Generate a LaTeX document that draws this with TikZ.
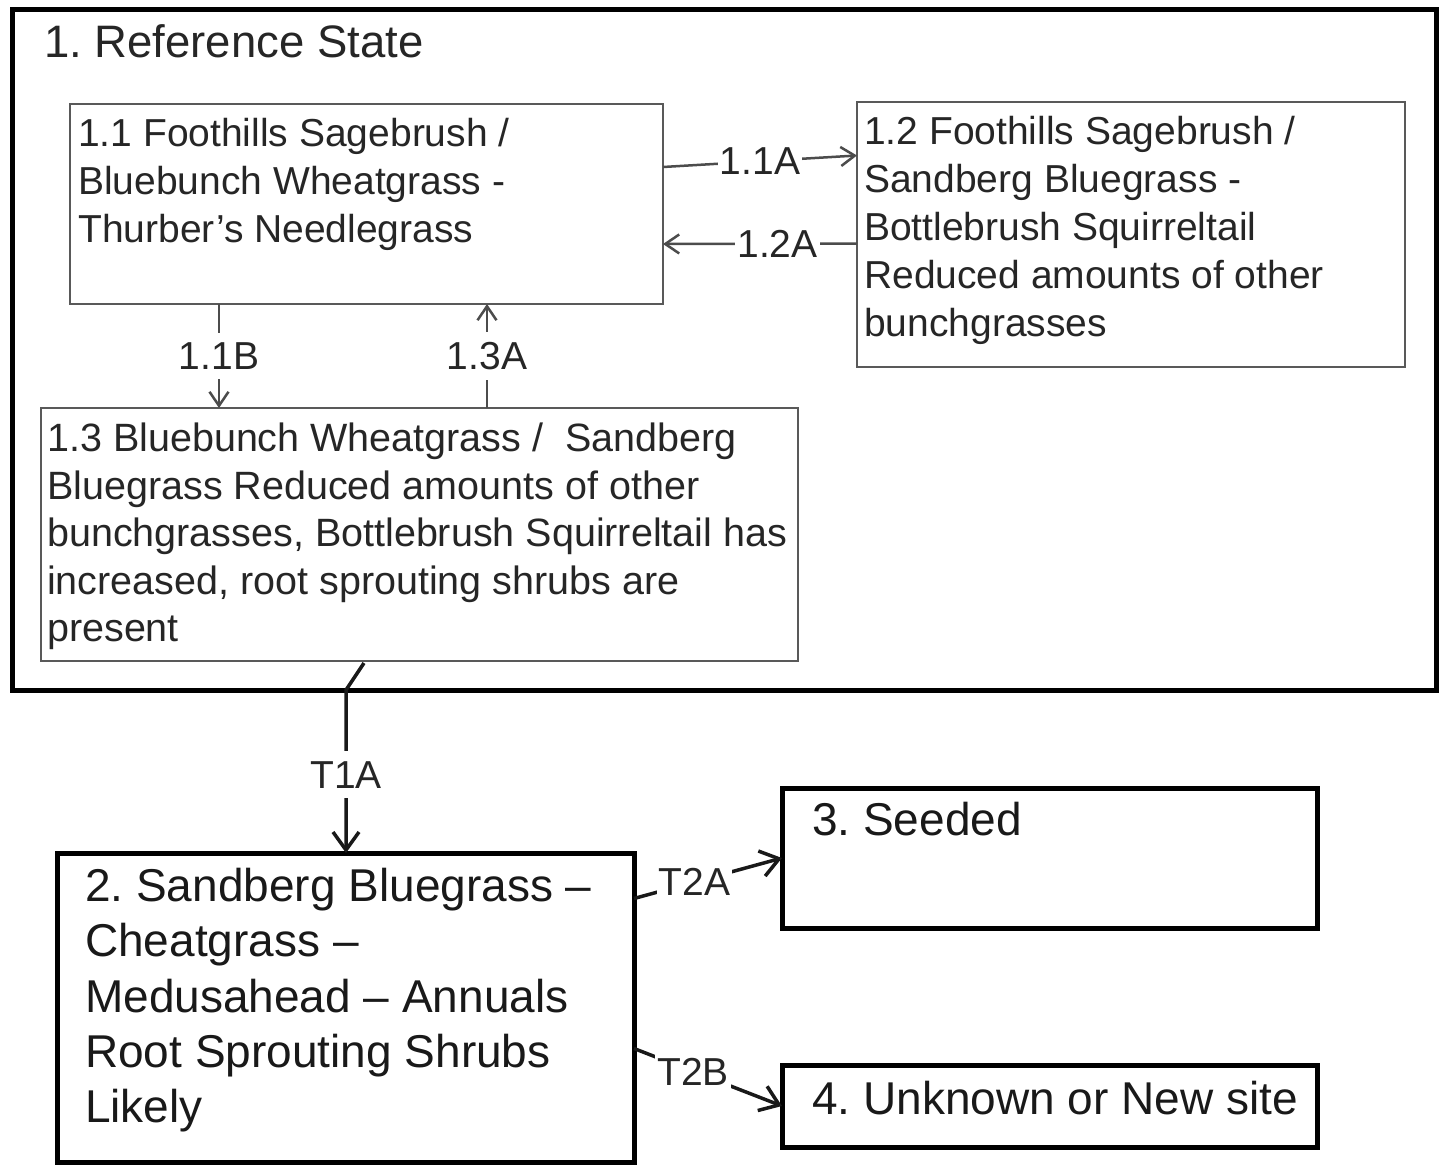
\documentclass[tikz,border=0pt]{standalone}
\usepackage{fontspec}
\setmainfont{Liberation Sans}
\usetikzlibrary{arrows.meta,positioning}

\begin{document}
\frenchspacing
\begin{tikzpicture}[x=1pt, y=-1pt,
    thinbox/.style={draw=black!65, line width=2.5pt, inner sep=0pt, outer sep=0pt, anchor=north west},
    thickbox/.style={draw=black, line width=5pt, inner sep=0pt, outer sep=0pt, anchor=north west},
    smalltext/.style={anchor=north west, align=left, inner sep=0pt, text=black!85, font=\fontsize{39}{48}\selectfont},
    bigtext/.style={anchor=north west, align=left, inner sep=0pt, text=black!90, font=\fontsize{46}{55.3}\selectfont},
    conn/.style={draw=black!70, line width=2.5pt, -{Straight Barb[length=14pt,width=19pt]}},
    trans/.style={draw=black!90, line width=3.5pt, -{Straight Barb[length=18pt,width=26pt]}},
    lbl/.style={fill=white, inner xsep=2pt, inner ysep=10pt, text=black!85, font=\fontsize{39}{39}\selectfont}]
  \useasboundingbox (0,0) rectangle (1446,1165);

  \begin{scope}
    \node[thickbox, minimum width=1424pt, minimum height=681pt] (ref) at (12,9) {};
    \node[thinbox, minimum width=593pt, minimum height=200pt] (s11) at (70,104) {};
    \node[thinbox, minimum width=548pt, minimum height=265pt] (s12) at (857,102) {};
    \node[thinbox, minimum width=757pt, minimum height=253pt] (s13) at (41,408) {};
    \node[thickbox, minimum width=577pt, minimum height=309pt] (s2) at (57,853) {};
    \node[thickbox, minimum width=535pt, minimum height=140pt] (s3) at (782,788) {};
    \node[thickbox, minimum width=535pt, minimum height=82pt] (s4) at (782,1065) {};
  \end{scope}

  \node[smalltext, font=\fontsize{45.5}{50}\selectfont] (reftxt) at (44,24) {1. Reference State};
  \node[smalltext] (s11txt) at (78,118) {1.1 Foothills Sagebrush /\\Bluebunch Wheatgrass -\\Thurber’s Needlegrass};
  \node[smalltext] (s12txt) at (864,116) {1.2 Foothills Sagebrush /\\Sandberg Bluegrass -\\Bottlebrush Squirreltail\\Reduced amounts of other\\bunchgrasses};
  \node[smalltext, font=\fontsize{39.5}{47.5}\selectfont] (s13txt) at (47,423)
    {1.3 Bluebunch Wheatgrass /\ \ Sandberg\\Bluegrass Reduced amounts of other\\bunchgrasses, Bottlebrush Squirreltail has\\increased, root sprouting shrubs are\\present};
  \node[bigtext] (s2txt) at (85,868) {2. Sandberg Bluegrass –\\Cheatgrass –\\Medusahead – Annuals\\Root Sprouting Shrubs\\Likely};
  \node[bigtext] (s3txt) at (812,802) {3. Seeded};
  \node[bigtext] (s4txt) at (812,1081) {4. Unknown or New site};

  \coordinate (t1start) at (364,663);
  \coordinate (t1bend) at (346,690);

  \begin{scope}
    \draw[conn] ([yshift=37pt]s11.east) -- ([yshift=79pt]s12.west) node[lbl, midway] {1.1A};
    \draw[conn] ([yshift=-9pt]s12.west) -- ([yshift=-40pt]s11.east) node[lbl, pos=0.41] {1.2A};
    \draw[conn] ([xshift=-147.5pt]s11.south) -- ([xshift=-200.5pt]s13.north) node[lbl, midway] {1.1B};
    \draw[conn] ([xshift=67.5pt]s13.north) -- ([xshift=120.5pt]s11.south) node[lbl, midway] {1.3A};
    \draw[trans] (t1start) -- (t1bend) -- (s2.north -| t1bend) node[lbl, pos=0.52] {T1A};
    \draw[trans] ([yshift=109pt]s2.east) -- (s3.west) node[lbl, pos=0.41, inner ysep=4pt] {T2A};
    \draw[trans] ([yshift=-41pt]s2.east) -- (s4.west) node[lbl, pos=0.4, inner ysep=4pt] {T2B};
  \end{scope}
\end{tikzpicture}
\end{document}
